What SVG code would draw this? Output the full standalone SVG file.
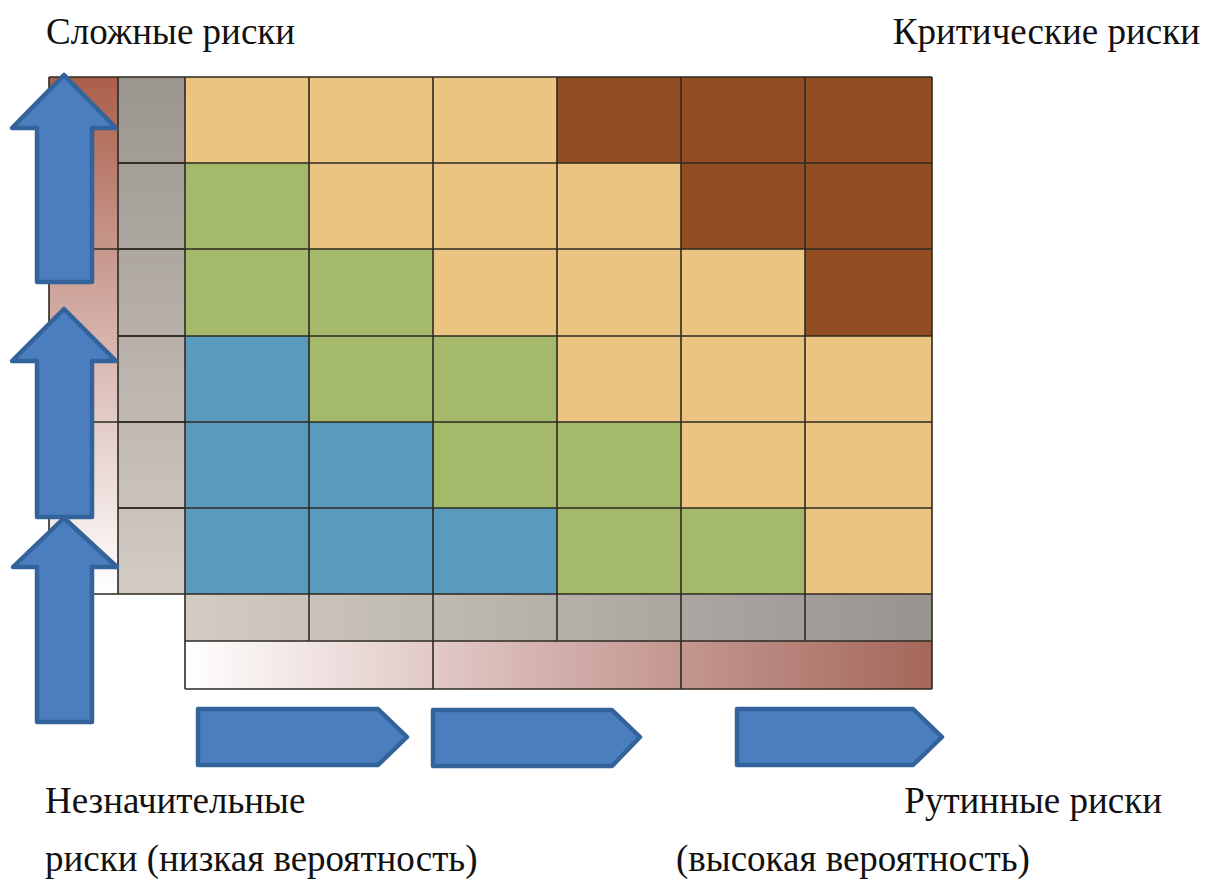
<svg xmlns="http://www.w3.org/2000/svg" width="1209" height="884" viewBox="0 0 1209 884">
<defs>
<style>
.t{font-family:"Liberation Serif","Times New Roman",serif;font-size:37px;fill:#111}
.T{fill:#ebc481}.G{fill:#a5b96a}.B{fill:#5a9bbd}.R{fill:#924d22}
.ln{stroke:#2e2a22;stroke-width:1.6;fill:none}
.arr{fill:#4a7ebf;stroke:#33639a;stroke-width:4.5;stroke-linejoin:round}
</style>
<linearGradient id="lg" x1="0" y1="0" x2="0" y2="1">
<stop offset="0" stop-color="#ab5f4a"/><stop offset="0.45" stop-color="#d1aaa2"/><stop offset="1" stop-color="#ffffff"/>
</linearGradient>
<linearGradient id="gc" x1="0" y1="0" x2="0" y2="1">
<stop offset="0" stop-color="#9b958f"/><stop offset="1" stop-color="#d3ccc5"/>
</linearGradient>
<linearGradient id="gb" x1="0" y1="0" x2="1" y2="0">
<stop offset="0" stop-color="#d3ccc5"/><stop offset="1" stop-color="#98938f"/>
</linearGradient>
<linearGradient id="rb" x1="0" y1="0" x2="1" y2="0">
<stop offset="0" stop-color="#ffffff"/><stop offset="0.5" stop-color="#d2aeaa"/><stop offset="1" stop-color="#a5675a"/>
</linearGradient>
</defs>
<g id="labels">
<text class="t" x="46" y="44">Сложные риски</text>
<text class="t" x="1200" y="44" text-anchor="end">Критические риски</text>
<text class="t" x="45" y="813">Незначительные</text>
<text class="t" x="1162" y="813" text-anchor="end">Рутинные риски</text>
<text class="t" x="45" y="871">риски (низкая вероятность)</text>
<text class="t" x="676" y="871">(высокая вероятность)</text>
</g>
<g id="left-scale">
<rect x="49" y="77" width="69" height="517" fill="url(#lg)"/>
<path class="ln" d="M49 77V594M49 249H118M49 422H118M49 594H118"/>
</g>
<g id="gray-column">
<rect x="118" y="77" width="67" height="517" fill="url(#gc)"/>
<path class="ln" d="M118 77V594M118 163H185M118 249H185M118 336H185M118 422H185M118 508H185"/>
</g>
<g id="matrix">
<rect class="T" x="185" y="77" width="124" height="86"/><rect class="T" x="309" y="77" width="124" height="86"/><rect class="T" x="433" y="77" width="124" height="86"/><rect class="R" x="557" y="77" width="124" height="86"/><rect class="R" x="681" y="77" width="124" height="86"/><rect class="R" x="805" y="77" width="127" height="86"/>
<rect class="G" x="185" y="163" width="124" height="86"/><rect class="T" x="309" y="163" width="124" height="86"/><rect class="T" x="433" y="163" width="124" height="86"/><rect class="T" x="557" y="163" width="124" height="86"/><rect class="R" x="681" y="163" width="124" height="86"/><rect class="R" x="805" y="163" width="127" height="86"/>
<rect class="G" x="185" y="249" width="124" height="87"/><rect class="G" x="309" y="249" width="124" height="87"/><rect class="T" x="433" y="249" width="124" height="87"/><rect class="T" x="557" y="249" width="124" height="87"/><rect class="T" x="681" y="249" width="124" height="87"/><rect class="R" x="805" y="249" width="127" height="87"/>
<rect class="B" x="185" y="336" width="124" height="86"/><rect class="G" x="309" y="336" width="124" height="86"/><rect class="G" x="433" y="336" width="124" height="86"/><rect class="T" x="557" y="336" width="124" height="86"/><rect class="T" x="681" y="336" width="124" height="86"/><rect class="T" x="805" y="336" width="127" height="86"/>
<rect class="B" x="185" y="422" width="124" height="86"/><rect class="B" x="309" y="422" width="124" height="86"/><rect class="G" x="433" y="422" width="124" height="86"/><rect class="G" x="557" y="422" width="124" height="86"/><rect class="T" x="681" y="422" width="124" height="86"/><rect class="T" x="805" y="422" width="127" height="86"/>
<rect class="B" x="185" y="508" width="124" height="86"/><rect class="B" x="309" y="508" width="124" height="86"/><rect class="B" x="433" y="508" width="124" height="86"/><rect class="G" x="557" y="508" width="124" height="86"/><rect class="G" x="681" y="508" width="124" height="86"/><rect class="T" x="805" y="508" width="127" height="86"/>
</g>
<g id="gray-bar">
<rect x="185" y="594" width="747" height="47" fill="url(#gb)"/>
</g>
<g id="prob-bar">
<rect x="185" y="641" width="747" height="48" fill="url(#rb)"/>
</g>
<g id="grid-lines">
<path class="ln" d="M49 77H932M118 163H932M118 249H932M118 336H932M118 422H932M118 508H932M118 594H932M185 641H932M185 689H932"/>
<path class="ln" d="M185 77V689M309 77V641M433 77V689M557 77V641M681 77V689M805 77V641M932 77V689"/>
</g>
<g id="arrows">
<path class="arr" d="M64 75L116 128H92V282H37V128H12Z"/>
<path class="arr" d="M64 309L116 361H92V517H37V361H12Z"/>
<path class="arr" d="M64 518L117 567H92V722H37V567H13Z"/>
<path class="arr" d="M198 709H378L407 737L378 765H198Z"/>
<path class="arr" d="M433 710H612L640 737L612 766H433Z"/>
<path class="arr" d="M737 709H913L942 737L913 765H737Z"/>
</g>
</svg>
